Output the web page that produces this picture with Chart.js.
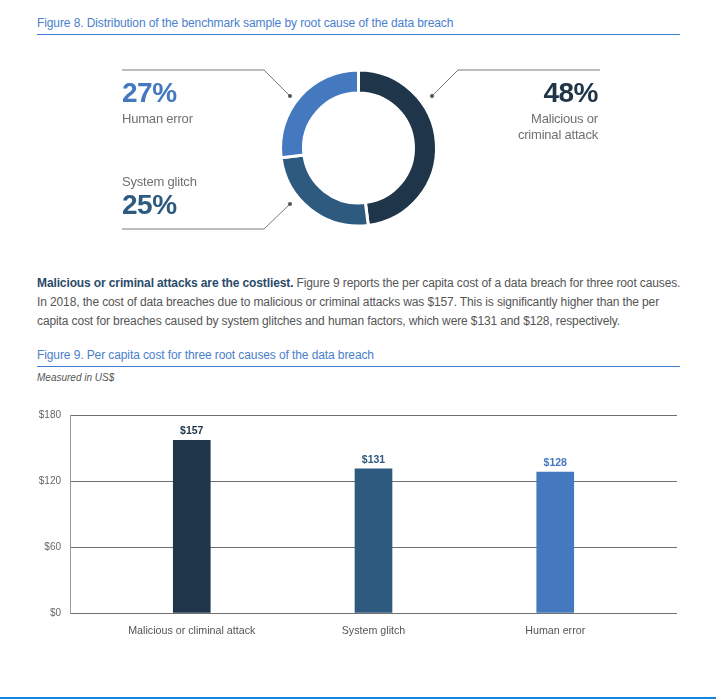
<!DOCTYPE html>
<html>
<head>
<meta charset="utf-8">
<script src="https://cdn.jsdelivr.net/npm/chart.js@4.4.1/dist/chart.umd.min.js"></script>
<style>
body { margin: 0; background: #fff; font-family: "Liberation Sans", Arial, sans-serif; }
#page { position: relative; width: 716px; height: 699px; overflow: hidden; }
.abs { position: absolute; white-space: nowrap; line-height: 1; }
.figtitle { font-size: 12px; color: #4a80cc; left: 37px; letter-spacing: -0.1px; }
.rule { position: absolute; left: 37px; width: 643px; height: 0; border-top: 1px solid #3f7bd0; }
.big { font-size: 28px; font-weight: bold; letter-spacing: -0.5px; }
.lbl { font-size: 13px; color: #707070; letter-spacing: -0.2px; }
#para { position: absolute; left: 37px; top: 274.3px; font-size: 12px; line-height: 19px; color: #555; white-space: nowrap; letter-spacing: -0.12px; }
#para b { color: #2b4a6a; }
#donutBox { position: absolute; left: 0; top: 40px; width: 716px; height: 210px; }
#barBox { position: absolute; left: 0; top: 400px; width: 716px; height: 240px; }
#bottomLine { position: absolute; left: 0; top: 697px; width: 716px; height: 2px; background: #1384e0; }
</style>
</head>
<body>
<div id="page">
  <div class="abs figtitle" style="top:17px">Figure 8. Distribution of the benchmark sample by root cause of the data breach</div>
  <div class="rule" style="top:33.5px"></div>

  <div id="donutBox"><canvas id="donutChart"></canvas></div>

  <div class="abs big" style="left:122px; top:79.3px; color:#4479c0">27%</div>
  <div class="abs lbl" style="left:122px; top:112px">Human error</div>
  <div class="abs big" style="right:118px; top:79.3px; color:#1f3549">48%</div>
  <div class="abs lbl" style="right:118px; top:111.6px">Malicious or</div>
  <div class="abs lbl" style="right:118px; top:127.6px">criminal attack</div>
  <div class="abs lbl" style="left:122px; top:174.6px">System glitch</div>
  <div class="abs big" style="left:122px; top:191.3px; color:#2e5a80">25%</div>

  <div id="para"><b>Malicious or criminal attacks are the costliest.</b> Figure 9 reports the per capita cost of a data breach for three root causes.<br>In 2018, the cost of data breaches due to malicious or criminal attacks was $157. This is significantly higher than the per<br>capita cost for breaches caused by system glitches and human factors, which were $131 and $128, respectively.</div>

  <div class="abs figtitle" style="top:349px">Figure 9. Per capita cost for three root causes of the data breach</div>
  <div class="rule" style="top:365.5px"></div>
  <div class="abs" style="left:37px; top:373px; font-size:10px; font-style:italic; color:#555">Measured in US$</div>

  <div id="barBox"><canvas id="barChart"></canvas></div>
  <div id="bottomLine"></div>
</div>

<script>
// Figure 8 data
const shareLabels = ['Malicious or criminal attack', 'System glitch', 'Human error'];
const shareValues = [48, 25, 27];

// Figure 9 data
const costCategories = ['Malicious or climinal attack', 'System glitch', 'Human error'];
const costValues = [157, 131, 128];
const costTicks = [0, 60, 120, 180];

const causeColors = ['#1f3549', '#2e5a80', '#4479c0'];

// leader lines, offsets from the donut centre
const leaderLines = [
    { dot: [-68.5, -52], elbow: [-94.5, -78], end: -236.5 },
    { dot: [73.5, -52], elbow: [99.5, -78], end: 241.5 },
    { dot: [-68.5, 56], elbow: [-94.5, 81], end: -236.5 }
];

const leaderPlugin = {
    id: 'leaders',
    afterDraw(chart) {
        const arc = chart.getDatasetMeta(0).data[0];
        const ctx = chart.ctx;
        ctx.save();
        ctx.strokeStyle = '#7a7a7a';
        ctx.fillStyle = '#555';
        ctx.lineWidth = 1;
        leaderLines.forEach(l => {
            ctx.beginPath();
            ctx.moveTo(arc.x + l.dot[0], arc.y + l.dot[1]);
            ctx.lineTo(arc.x + l.elbow[0], arc.y + l.elbow[1]);
            ctx.lineTo(arc.x + l.end, arc.y + l.elbow[1]);
            ctx.stroke();
            ctx.beginPath();
            ctx.arc(arc.x + l.dot[0], arc.y + l.dot[1], 2, 0, Math.PI * 2);
            ctx.fill();
        });
        ctx.restore();
    }
};

new Chart(document.getElementById('donutChart'), {
    type: 'doughnut',
    data: {
        labels: shareLabels,
        datasets: [{
            data: shareValues,
            backgroundColor: causeColors,
            borderColor: '#fff',
            borderWidth: 3
        }]
    },
    options: {
        responsive: true,
        maintainAspectRatio: false,
        animation: false,
        cutout: '70.5%',
        layout: { padding: { left: 279, right: 278, top: 28.5, bottom: 22.5 } },
        plugins: { legend: { display: false }, tooltip: { enabled: false } }
    },
    plugins: [leaderPlugin]
});

// value labels above the bars
const valueLabels = {
    id: 'valueLabels',
    afterDatasetsDraw(chart) {
        const ctx = chart.ctx;
        ctx.save();
        ctx.font = 'bold 10.5px "Liberation Sans", Arial, sans-serif';
        ctx.textAlign = 'center';
        ctx.textBaseline = 'alphabetic';
        chart.getDatasetMeta(0).data.forEach((bar, i) => {
            ctx.fillStyle = causeColors[i];
            ctx.fillText('$' + costValues[i], bar.x, bar.y - 6);
        });
        ctx.restore();
    }
};

new Chart(document.getElementById('barChart'), {
    type: 'bar',
    data: {
        datasets: [{
            data: costValues.map((v, i) => ({ x: i, y: v })),
            backgroundColor: causeColors,
            barThickness: 37
        }]
    },
    options: {
        responsive: true,
        maintainAspectRatio: false,
        animation: false,
        layout: { padding: { left: 0, right: 39, top: 13, bottom: 0 } },
        plugins: { legend: { display: false }, tooltip: { enabled: false } },
        scales: {
            x: {
                type: 'linear',
                offset: false,
                min: -0.67,
                max: 2.67,
                afterBuildTicks: axis => { axis.ticks = costCategories.map((c, i) => ({ value: i })); },
                afterFit: axis => { axis.height = 27; },
                grid: { display: false },
                border: { display: false },
                ticks: {
                    callback: v => costCategories[v] || '',
                    color: '#555',
                    font: { family: '"Liberation Sans", Arial, sans-serif', size: 10.7 },
                    padding: 4,
                    maxRotation: 0
                }
            },
            y: {
                min: 0,
                max: 180,
                afterBuildTicks: axis => { axis.ticks = costTicks.map(v => ({ value: v })); },
                afterFit: axis => { axis.width = 70; },
                grid: { color: '#707070', lineWidth: 1, drawTicks: false },
                border: { color: '#999', width: 1 },
                ticks: {
                    callback: v => '$' + v,
                    color: '#666',
                    font: { family: '"Liberation Sans", Arial, sans-serif', size: 10 },
                    padding: 9
                }
            }
        }
    },
    plugins: [valueLabels]
});
</script>
</body>
</html>
